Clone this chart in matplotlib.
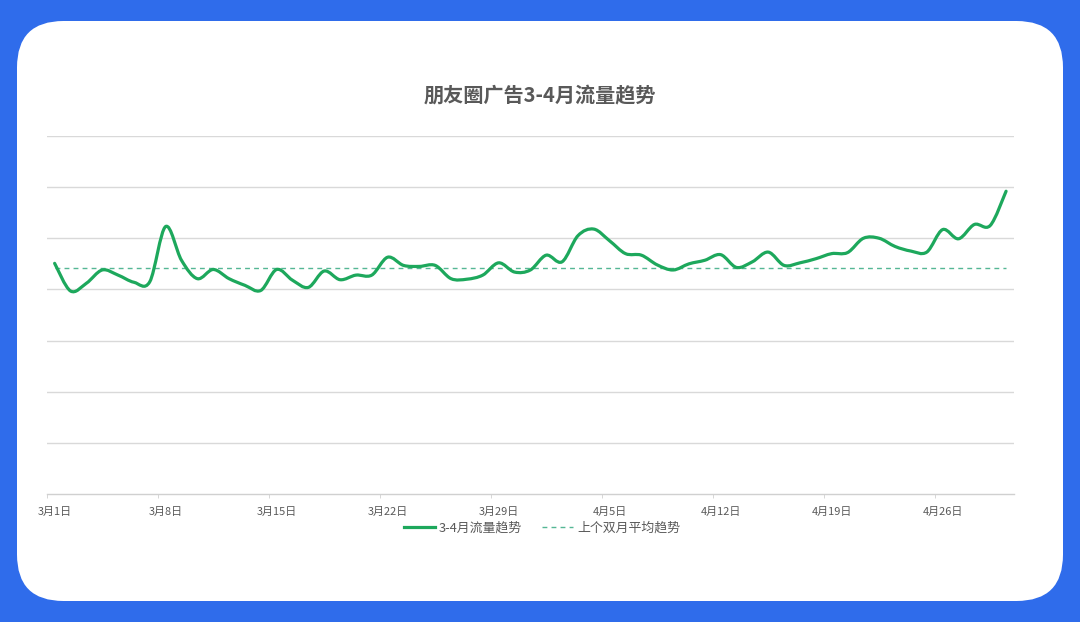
import matplotlib
matplotlib.use("Agg")
import matplotlib.pyplot as plt
import matplotlib.patches as mpatches
from matplotlib.path import Path
import numpy as np

plt.rcParams['font.family'] = ['Noto Sans CJK SC', 'DejaVu Sans']

# daily traffic, 3月1日 .. 4月30日 (61 days)
traffic = [4.51, 3.97, 4.12, 4.38, 4.28, 4.14, 4.15, 5.23, 4.57, 4.21,
           4.39, 4.21, 4.08, 3.98, 4.39, 4.18, 4.04, 4.36, 4.19, 4.28,
           4.28, 4.63, 4.47, 4.45, 4.47, 4.21, 4.20, 4.28, 4.52, 4.34,
           4.38, 4.67, 4.54, 5.05, 5.18, 4.95, 4.70, 4.67, 4.48, 4.38,
           4.50, 4.57, 4.68, 4.43, 4.54, 4.73, 4.47, 4.52, 4.60, 4.70,
           4.72, 5.00, 5.00, 4.84, 4.75, 4.73, 5.17, 4.99, 5.27, 5.25,
           5.92]
prev_avg = 4.41
tick_labels = ['3月1日', '3月8日', '3月15日', '3月22日', '3月29日',
               '4月5日', '4月12日', '4月19日', '4月26日']
title = '朋友圈广告3-4月流量趋势'
series_names = ['3-4月流量趋势', '上个双月平均趋势']

blue = '#2F6CEB'
green = '#1DA85C'
dash_green = '#55B794'
text_gray = '#595959'

fig = plt.figure(figsize=(10.8, 6.22), dpi=100)
fig.patch.set_facecolor(blue)

# white rounded card, kept behind the axes
card = mpatches.FancyBboxPatch((17 / 1080, 21 / 622), 1046 / 1080, 580 / 622,
                               boxstyle='round,pad=0,rounding_size=0.043',
                               transform=fig.transFigure, facecolor='white',
                               edgecolor='none', mutation_aspect=1080 / 622,
                               zorder=-5)
fig.patches.append(card)

ax = fig.add_axes([46.7 / 1080, 128 / 622, 967.3 / 1080, 358 / 622])
ax.set_facecolor('none')
ax.set_zorder(2)

x = np.arange(len(traffic))
y = np.array(traffic)

# smoothed line (bezier through every point, like an office chart)
verts = [(x[0], y[0])]
codes = [Path.MOVETO]
n = len(x)
for i in range(n - 1):
    p0 = np.array([x[max(i - 1, 0)], y[max(i - 1, 0)]])
    p1 = np.array([x[i], y[i]])
    p2 = np.array([x[i + 1], y[i + 1]])
    p3 = np.array([x[min(i + 2, n - 1)], y[min(i + 2, n - 1)]])
    c1 = p1 + (p2 - p0) / 6
    c2 = p2 - (p3 - p1) / 6
    verts += [tuple(c1), tuple(c2), tuple(p2)]
    codes += [Path.CURVE4] * 3
curve = mpatches.PathPatch(Path(verts, codes), facecolor='none',
                           edgecolor=green, lw=2.3, capstyle='round',
                           joinstyle='round', zorder=3)
ax.add_patch(curve)
ax.plot([], [], color=green, lw=2.3, label=series_names[0])

ax.plot([x[0], x[-1]], [prev_avg, prev_avg], color=dash_green, lw=1.0,
        ls=(0, (3.5, 3)), label=series_names[1], zorder=2)

ax.set_xlim(-0.5, n - 0.5)
ax.set_ylim(0, 7)
ax.set_yticks(range(1, 8))
ax.yaxis.grid(True, color='#D9D9D9', lw=1.0)
ax.set_axisbelow(True)
ax.tick_params(axis='y', left=False, labelleft=False)
for s in ['left', 'right', 'top']:
    ax.spines[s].set_visible(False)
ax.spines['bottom'].set_color('#D0D0D0')
ax.spines['bottom'].set_linewidth(1.0)

ax.set_xticks(np.arange(0, n, 7))
ax.set_xticklabels(tick_labels, fontsize=7.9, color=text_gray)
ax.set_xticks(np.arange(-0.5, n, 7), minor=True)
ax.tick_params(axis='x', which='major', length=0, pad=9)
ax.tick_params(axis='x', which='minor', length=3, color='#D0D0D0')

fig.text(540 / 1080, 1 - 96 / 622, title, ha='center', va='center',
         fontsize=14.5, fontweight='bold', color=text_gray)

fig.legend(loc='center', bbox_to_anchor=(542 / 1080, 1 - 528 / 622),
           ncol=2, frameon=False, fontsize=9.3, labelcolor=text_gray,
           handlelength=2.4, handletextpad=0.3, columnspacing=1.6)

fig.savefig('out.png', dpi=100, facecolor=fig.get_facecolor())
